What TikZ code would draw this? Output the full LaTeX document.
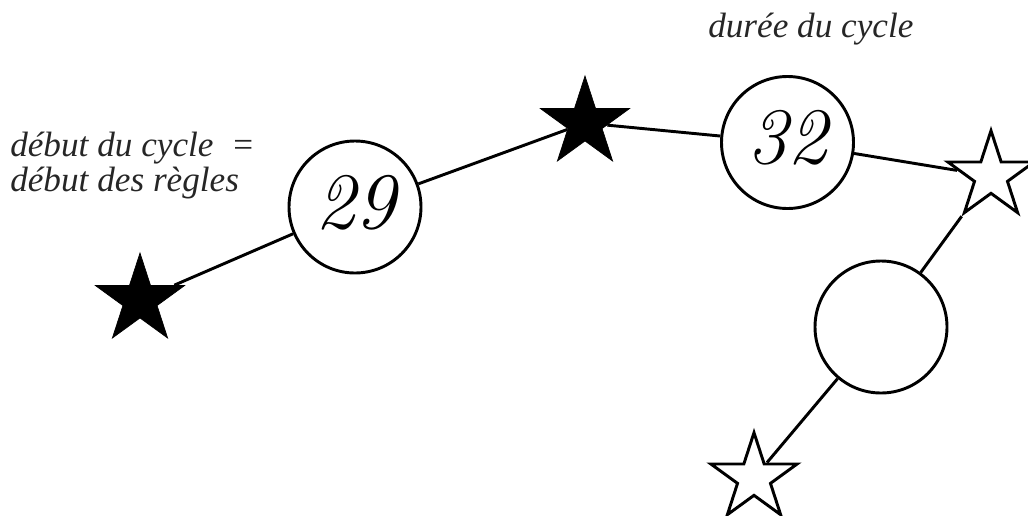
\documentclass[tikz,border=0pt]{standalone}
\usepackage{fontspec}
\newfontfamily\lblfont{Liberation Serif}
\usetikzlibrary{shapes.geometric}
\begin{document}
\begin{tikzpicture}[x=0.75pt,y=-0.75pt,
  conn/.style={line width=2.2pt},
  ring/.style={circle,draw,line width=2.2pt,minimum size=99pt,inner sep=0pt,
    font=\itshape\fontsize{60}{64}\selectfont,text depth=8pt},
  starbase/.style={star,star points=5,star point ratio=2.618,minimum size=70.5pt,inner sep=0pt},
  blackstar/.style={starbase,draw=black,fill=black,line width=0.5pt},
  whitestar/.style={starbase,draw=black,fill=white,line width=2.2pt,minimum size=68pt},
  lbl/.style={font=\lblfont\itshape\fontsize{26.4}{30}\selectfont,text=black!85,inner sep=0pt,anchor=base west}]
\useasboundingbox (0,0) rectangle (1028,515);
% nodes
\node[blackstar] (s1) at (140,300) {};
\node[ring] (c29) at (355,207) {29};
\node[blackstar] (s2) at (585,123) {};
\node[ring] (c32) at (787.5,142.5) {32};
\node[whitestar] (w1) at (991,176) {};
\node[ring] (c3) at (881,327) {};
\node[whitestar] (w2) at (754,478) {};
% connectors
\draw[conn] (s1) -- (c29);
\draw[conn] (c29) -- (s2);
\draw[conn] (s2) -- (c32);
\draw[conn] (c32) -- (w1);
\draw[conn] (w1) -- (c3);
\draw[conn] (c3) -- (w2);
% labels
\node[lbl] (dc) at (708,37) {durée du cycle};
\node[lbl] (l1) at (10,156) {début du cycle\ \ =};
\node[lbl] (l2) at (10,191) {début des règles};
\end{tikzpicture}
\end{document}
